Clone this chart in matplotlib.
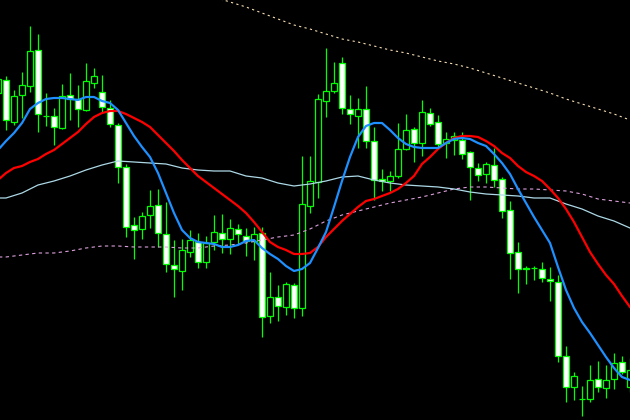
"""Candlestick chart with moving averages, terminal-style black background."""

import numpy as np
import matplotlib
matplotlib.use('Agg')
import matplotlib.pyplot as plt

# OHLC in price points (bar index -1 .. 78)
opens = [327, 340, 298, 325, 334, 370, 304, 304, 292, 325, 321, 310, 337, 328, 312, 295,
         253, 195, 191, 205, 215, 186, 155, 149, 168, 178, 158, 178, 187, 181, 191, 184,
         179, 187, 104, 123, 113, 135, 112, 214, 238, 319, 329, 357, 311, 304, 311, 279,
         241, 239, 244, 271, 291, 277, 307, 298, 277, 280, 280, 268, 252, 246, 255, 241,
         210, 168, 151, 152, 151, 141, 138, 64, 33, 21, 21, 41, 32, 41, 58, 33]
highs = [345, 344, 330, 348, 394, 386, 327, 312, 336, 347, 335, 357, 352, 345, 320, 297,
         256, 203, 208, 230, 231, 218, 180, 181, 190, 187, 184, 205, 206, 201, 196, 192,
         193, 193, 148, 135, 138, 137, 264, 264, 326, 372, 358, 363, 325, 322, 334, 293,
         251, 249, 297, 306, 293, 320, 312, 305, 288, 288, 288, 269, 257, 258, 272, 243,
         219, 178, 154, 154, 158, 153, 145, 74, 48, 34, 55, 59, 55, 67, 64, 62]
lows = [320, 290, 295, 302, 328, 288, 294, 275, 291, 300, 293, 309, 332, 308, 293, 237,
        183, 161, 181, 192, 173, 148, 123, 130, 163, 152, 152, 170, 167, 166, 177, 164,
        160, 83, 97, 99, 105, 102, 104, 207, 222, 303, 327, 306, 296, 272, 272, 220,
        229, 229, 242, 270, 258, 264, 294, 272, 262, 265, 261, 220, 239, 237, 233, 202,
        141, 127, 136, 140, 138, 119, 58, 18, 20, 4, 18, 28, 22, 31, 46, 28]
closes = [341, 300, 324, 335, 369, 306, 304, 293, 324, 321, 311, 339, 344, 313, 296, 253,
          193, 190, 204, 214, 187, 156, 151, 170, 180, 158, 177, 188, 181, 192, 186, 179,
          186, 103, 123, 114, 136, 112, 216, 239, 321, 329, 337, 312, 306, 311, 279, 240,
          239, 244, 271, 290, 277, 308, 296, 276, 281, 284, 266, 253, 245, 256, 240, 209,
          167, 151, 152, 152, 142, 139, 64, 33, 44, 21, 40, 33, 40, 57, 48, 50]

# fast and medium averages, one value per bar
ma_fast = [270, 279, 287, 297, 311, 317, 321, 322, 322, 321, 320, 323, 323, 319, 317, 310,
           297, 284, 273, 263, 247, 227, 207, 190, 182, 178, 177, 176, 173, 173, 175, 179,
           180, 172, 166, 161, 154, 149, 151, 157, 172, 188, 213, 239, 263, 283, 294, 297,
           297, 290, 282, 276, 273, 272, 272, 272, 277, 281, 282, 281, 277, 274, 266, 257,
           246, 231, 217, 203, 190, 177, 153, 130, 112, 98, 87, 75, 63, 52, 43, 40]
ma_mid = [240, 247, 252, 254, 258, 261, 266, 270, 276, 282, 288, 296, 303, 307, 309, 309,
          306, 302, 298, 293, 285, 277, 269, 260, 252, 244, 238, 232, 226, 220, 214, 207,
          198, 188, 178, 173, 170, 166, 166, 167, 173, 183, 191, 199, 206, 213, 219, 221,
          224, 227, 231, 237, 244, 256, 263, 271, 277, 282, 284, 284, 283, 279, 274, 267,
          262, 254, 248, 244, 239, 231, 222, 211, 198, 183, 168, 156, 145, 136, 124, 113]

# slower averages, read every second bar
ma_bars = [-1, 0, 2, 4, 6, 8, 10, 12, 14, 16, 18, 20, 22, 24, 26, 28, 30, 32, 34, 36,
           38, 40, 42, 44, 46, 48, 50, 52, 54, 56, 58, 60, 62, 64, 66, 68, 70, 72, 74, 76, 78]
ma_slow = [222, 222, 227, 235, 239, 244, 250, 255, 259, 258, 257, 256, 252, 250, 249, 249,
           244, 242, 237, 234, 236, 239, 243, 244, 240, 237, 235, 234, 233, 231, 228, 226,
           225, 224, 222, 222, 216, 211, 204, 199, 192]
ma_long = [163, 163, 165, 167, 167, 169, 172, 174, 174, 173, 173, 173, 172, 172, 174, 175,
           177, 180, 183, 185, 191, 199, 205, 209, 213, 217, 220, 223, 227, 231, 233, 233,
           232, 231, 231, 230, 229, 226, 221, 219, 217]
top_bars = [26, 28, 30, 32, 34, 36, 38, 40, 42, 44, 46, 48, 50, 52, 54, 56, 58, 60, 62, 64,
            66, 68, 70, 72, 74, 76, 78]
ma_top = [423, 418, 413, 407, 401, 395, 391, 386, 381, 378, 374, 370, 367, 363, 359, 356,
          352, 347, 342, 337, 332, 327, 321, 316, 311, 306, 300]

CANDLE = '#00ff00'


def _draw_candles(ax, bars):
    """Wicks plus bodies: bear bodies filled white, bull bodies hollow."""
    o, h, l, c = (np.array(v) for v in (opens, highs, lows, closes))
    ax.vlines(bars, l, h, color=CANDLE, linewidth=0.9, zorder=2)
    face = np.where(c < o, 'white', 'black')
    ax.bar(bars, np.abs(c - o), bottom=np.minimum(o, c), width=0.64,
           color=face, edgecolor=CANDLE, linewidth=0.9, zorder=3)


def plot_chart():
    fig = plt.figure(figsize=(6.3, 4.2), dpi=100, facecolor='black')
    ax = fig.add_axes([0, 0, 1, 1])
    ax.set_facecolor('black')

    bars = np.arange(-1, len(opens) - 1)
    _draw_candles(ax, bars)

    ax.plot(top_bars, ma_top, color='#f5deb3', linewidth=0.8, dashes=(2, 3), zorder=4)
    ax.plot(ma_bars, ma_long, color='#dda0dd', linewidth=0.8, dashes=(3, 3), zorder=4)
    ax.plot(ma_bars, ma_slow, color='#add8e6', linewidth=0.9, zorder=4)
    ax.plot(bars, ma_mid, color='#ff0000', linewidth=1.6, zorder=5)
    ax.plot(bars, ma_fast, color='#1e90ff', linewidth=1.6, zorder=6)

    ax.set_xlim(-0.75, 78)
    ax.set_ylim(0, 420)
    ax.axis('off')
    fig.savefig('out.png', dpi=100, facecolor='black')


plot_chart()
